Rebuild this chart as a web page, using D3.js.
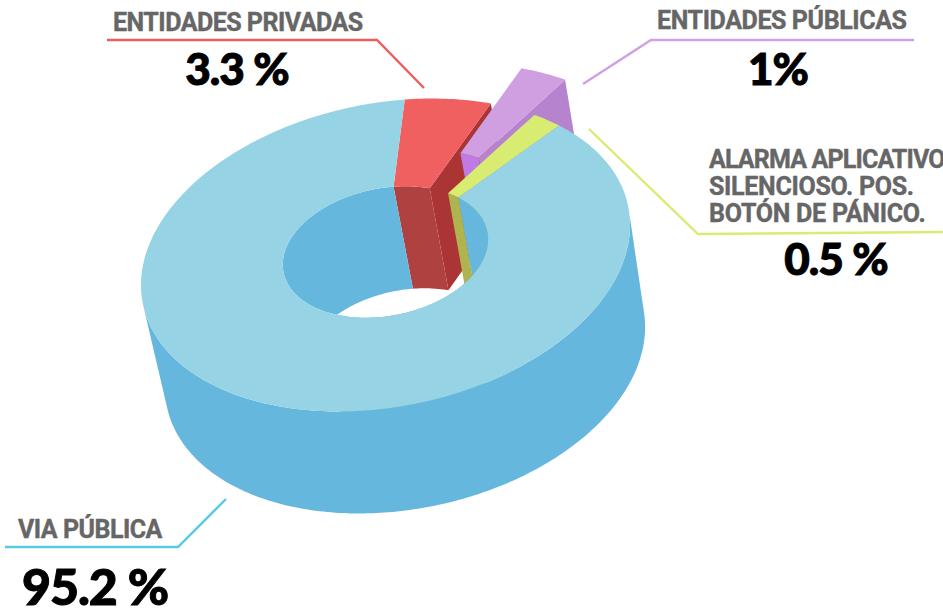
<!DOCTYPE html>
<html>
<head>
<meta charset="utf-8">
<script src="https://cdn.jsdelivr.net/npm/d3@7"></script>
<style>
  html, body { margin: 0; padding: 0; background: #fff; overflow: hidden; }
</style>
</head>
<body>
<svg id="chart" width="943" height="609"></svg>
<script>
// Slices in drawing order around the ring, clockwise from the blue one
const categories = ["VIA PÚBLICA", "ENTIDADES PRIVADAS", "ENTIDADES PÚBLICAS", "ALARMA APLICATIVO"];
const valueLabels = ["95.2 %", "3.3 %", "1%", "0.5 %"];
// The picture does not draw the slices to the printed percentages, so the
// sweep of each slice is read off the picture, in degrees
const drawnDegrees = [319.3, 21, 12, 7.7];
const pulledOut = [0, 0, 0.24, 0];
const alarmLines = ["ALARMA APLICATIVO", "SILENCIOSO. POS.", "BOTÓN DE PÁNICO."];

const topColors = ["#95d3e5", "#f06060", "#cf9fe2", "#d9ec72"];
const innerWallColors = ["#66b7de", "#af4240", "#c07ae6", "#b0b44e"];
// The big slice's cut ends sit behind the red and green slices
const endWallColors = [null, "#ab3535", "#b683cf", "#b0b44e"];

const svg = d3.select("#chart");
const ring = svg.append("g");

// The tilted disc: top face ellipse and the slightly offset bottom face
const tilt = 11.3 * Math.PI / 180;
const semiMajor = 247.5;
const semiMinor = 151.7;
const holeRadius = 0.42;
const holeLift = -3;
const topCenter = [385.5, 255];
const bottomCenter = [405, 357];
const bottomScaleX = 0.982;

function project(angle, radius, level, shift) {
  const a = semiMajor * radius * Math.sin(angle);
  const b = semiMinor * radius * Math.cos(angle);
  const dx = a * Math.cos(tilt) - b * Math.sin(tilt);
  const dy = -a * Math.sin(tilt) - b * Math.cos(tilt);
  const lift = radius === holeRadius ? holeLift : 0;
  if (level === 0) return [topCenter[0] + dx + shift[0], topCenter[1] + dy + lift + shift[1]];
  return [bottomCenter[0] + bottomScaleX * dx + shift[0], bottomCenter[1] + dy + lift + shift[1]];
}

const slices = d3.pie()
  .value(d => d)
  .sort(null)
  .startAngle(52.2 * Math.PI / 180)
  .endAngle((52.2 + 360) * Math.PI / 180)(drawnDegrees);

const polygon = d3.line().curve(d3.curveLinearClosed);

function anglesOf(start, end) {
  const count = Math.max(2, Math.ceil((end - start) / (Math.PI / 180)));
  return d3.range(count + 1).map(i => start + (end - start) * i / count);
}

function ribbon(angles, radius, shift) {
  const upper = angles.map(t => project(t, radius, 0, shift));
  const lower = angles.map(t => project(t, radius, 1, shift)).reverse();
  return polygon(upper.concat(lower));
}

// An outer wall can only be seen where it faces the viewer
function facesViewer(t) {
  const p = project(t, 1, 0, [0, 0]);
  const next = project(t + 0.001, 1, 0, [0, 0]);
  const under = project(t, 1, 1, [0, 0]);
  return (next[0] - p[0]) * (under[1] - p[1]) - (next[1] - p[1]) * (under[0] - p[0]) < 0;
}

function drawSlice(i) {
  const slice = slices[i];
  const mid = (slice.startAngle + slice.endAngle) / 2;
  const away = project(mid, pulledOut[i], 0, [0, 0]);
  const shift = [away[0] - topCenter[0], away[1] - topCenter[1]];
  const angles = anglesOf(slice.startAngle, slice.endAngle);
  const group = ring.append("g").attr("class", "slice");

  const outerAngles = angles.filter(facesViewer);
  if (outerAngles.length > 1) {
    group.append("path")
      .attr("d", ribbon(outerAngles, 1, shift))
      .attr("fill", innerWallColors[i]);
  }

  // Cut end of the slice, from hole to rim
  const end = slice.endAngle;
  if (endWallColors[i]) {
    group.append("path")
      .attr("d", polygon([
        project(end, 1, 0, shift),
        project(end, holeRadius, 0, shift),
        project(end, holeRadius, 1, shift),
        project(end, 1, 1, shift)
      ]))
      .attr("fill", endWallColors[i]);
  }

  group.append("path")
    .attr("d", ribbon(angles, holeRadius, shift))
    .attr("fill", innerWallColors[i]);

  const rim = angles.map(t => project(t, 1, 0, shift));
  const hole = angles.map(t => project(t, holeRadius, 0, shift)).reverse();
  group.append("path")
    .attr("d", polygon(rim.concat(hole)))
    .attr("fill", topColors[i]);
}

// Back to front: red, purple, green, then the big slice on top
[1, 2, 3, 0].forEach(drawSlice);

// Leader lines
const leaders = [
  { color: "#56cbe0", path: [[5, 547], [178, 547], [226, 499]] },
  { color: "#ee5c5c", path: [[107, 40], [377, 40], [424, 88]] },
  { color: "#cfa0e3", path: [[914, 40], [651, 40], [583, 84]] },
  { color: "#d9ec72", path: [[943, 232], [698, 234], [589, 129]] }
];
svg.selectAll(".leader")
  .data(leaders)
  .enter()
  .append("path")
  .attr("class", "leader")
  .attr("d", d => d3.line()(d.path))
  .attr("fill", "none")
  .attr("stroke", d => d.color)
  .attr("stroke-width", 2.4);

// Category names
const names = [
  { text: categories[0], x: 18, y: 538, spacing: -0.5 },
  { text: categories[1], x: 113, y: 31, spacing: -0.5 },
  { text: categories[2], x: 657, y: 29, spacing: -0.4 },
  { text: alarmLines[0], x: 709, y: 168, spacing: -0.85 },
  { text: alarmLines[1], x: 709, y: 195, spacing: -0.3 },
  { text: alarmLines[2], x: 709, y: 222, spacing: -0.25 }
];
svg.selectAll(".name")
  .data(names)
  .enter()
  .append("text")
  .attr("class", "name")
  .attr("x", d => d.x)
  .attr("y", d => d.y)
  .attr("font-family", "Roboto, sans-serif")
  .attr("font-weight", 700)
  .attr("font-size", 25)
  .attr("letter-spacing", d => d.spacing)
  .attr("fill", "#666666")
  .attr("stroke", "#666666")
  .attr("stroke-width", 0.4)
  .text(d => d.text);

// Percentages
const percents = [
  { text: valueLabels[0], x: 95, y: 605, size: 50 },
  { text: valueLabels[1], x: 237, y: 85, size: 44 },
  { text: valueLabels[2], x: 778, y: 85, size: 44 },
  { text: valueLabels[3], x: 836, y: 275, size: 44 }
];
svg.selectAll(".percent")
  .data(percents)
  .enter()
  .append("text")
  .attr("class", "percent")
  .attr("x", d => d.x)
  .attr("y", d => d.y)
  .attr("text-anchor", "middle")
  .attr("font-family", "Lato, 'Open Sans', sans-serif")
  .attr("font-weight", 900)
  .attr("font-size", d => d.size)
  .attr("letter-spacing", -1)
  .attr("fill", "#000")
  .attr("stroke", "#000")
  .attr("stroke-width", 1)
  .text(d => d.text);
</script>
</body>
</html>
